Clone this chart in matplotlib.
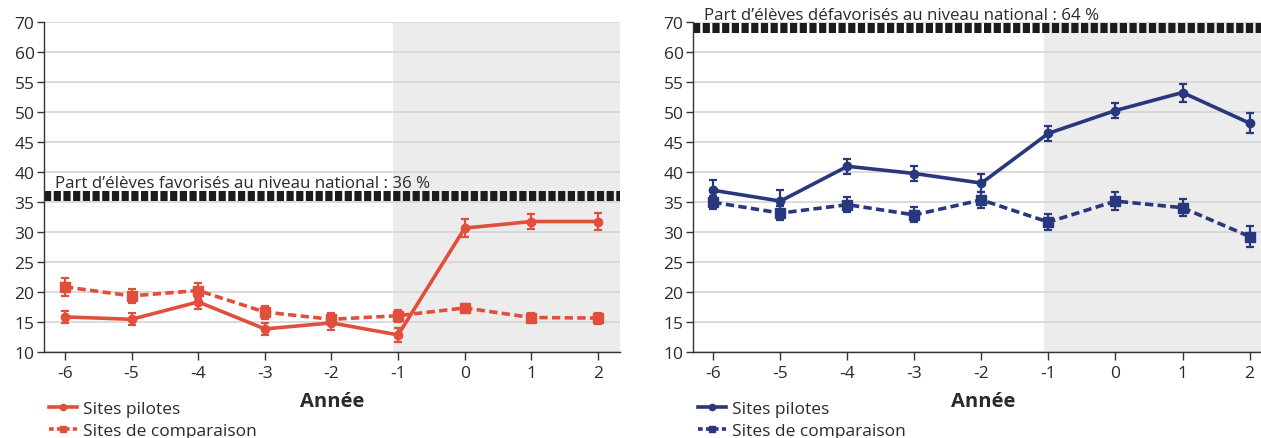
import matplotlib
matplotlib.use("Agg")
import matplotlib.pyplot as plt
from matplotlib.lines import Line2D
from matplotlib.transforms import blended_transform_factory

plt.rcParams['font.family'] = ['Open Sans', 'DejaVu Sans']

# ---------------- data ----------------
years = [-6, -5, -4, -3, -2, -1, 0, 1, 2]
year_labels = ["-6", "-5", "-4", "-3", "-2", "-1", "0", "1", "2"]

fav_pilotes = [15.9, 15.5, 18.4, 13.9, 14.9, 12.9, 30.7, 31.8, 31.8]
fav_pilotes_err = [1.05, 1.0, 1.1, 1.0, 1.1, 1.2, 1.45, 1.3, 1.4]
fav_comp = [20.9, 19.4, 20.3, 16.7, 15.5, 16.1, 17.4, 15.8, 15.7]
fav_comp_err = [1.5, 1.1, 1.3, 1.1, 1.0, 1.0, 0.7, 0.8, 0.9]

def_pilotes = [37.0, 35.2, 41.0, 39.8, 38.2, 46.5, 50.3, 53.3, 48.2]
def_pilotes_err = [1.7, 1.8, 1.2, 1.2, 1.5, 1.2, 1.3, 1.5, 1.65]
def_comp = [35.0, 33.2, 34.6, 32.9, 35.4, 31.7, 35.2, 34.1, 29.3]
def_comp_err = [1.1, 1.2, 1.25, 1.25, 1.3, 1.3, 1.5, 1.4, 1.75]

national_fav = 36
national_def = 64
text_fav = "Part d’élèves favorisés au niveau national : 36 %"
text_def = "Part d’élèves défavorisés au niveau national : 64 %"

ytick_vals = [10, 15, 20, 25, 30, 35, 40, 45, 50, 55, 60, 65]
ytick_labels = ["10", "15", "20", "25", "30", "35", "40", "45", "50", "55", "60", "70"]

series_labels = ["Sites pilotes", "Sites de comparaison"]
xlabel = "Année"

RED = "#E14F3C"
NAVY = "#29377C"
TXT = "#2a2a2a"

fig = plt.figure(figsize=(12.61, 4.39), dpi=100)
W, H = 1261, 439

def px_ax(x0, w):
    return [x0 / W, (H - 353.3) / H, w / W, (353.3 - 23.3) / H]

axL = fig.add_axes(px_ax(44.3, 575.7))
axR = fig.add_axes(px_ax(693.3, 579))

def draw(ax, pil, pil_err, comp, comp_err, color, ref, reftext, xlim):
    ax.set_xlim(*xlim)
    ax.set_ylim(10, 65)
    ax.axvspan(-1.07, 3, color="#ECECEC", zorder=0, lw=0)
    ax.set_yticks(ytick_vals)
    ax.set_yticklabels(ytick_labels)
    ax.set_xticks(years)
    ax.set_xticklabels(year_labels)
    ax.grid(axis="y", color="#D2D2D2", lw=1.1, zorder=1)
    ax.set_axisbelow(True)
    for s in ["top", "right"]:
        ax.spines[s].set_visible(False)
    for s in ["left", "bottom"]:
        ax.spines[s].set_color("#333333")
        ax.spines[s].set_linewidth(1.0)
    ax.tick_params(axis="y", length=5, width=1, color="#333333", labelsize=12.5,
                   labelcolor=TXT, pad=2)
    ax.tick_params(axis="x", length=6, width=1, color="#333333", labelsize=12.5,
                   labelcolor=TXT, pad=3)
    # national reference line
    ax.axhline(ref, color="#1c1c1c", lw=7.2, dashes=(0.72, 0.25),
               solid_capstyle="butt", dash_capstyle="butt", zorder=2)
    tr = blended_transform_factory(ax.transAxes, ax.transData)
    ax.text(0.018, ref + 2.2, reftext, transform=tr, fontsize=12.2,
            color=TXT, va="center", ha="left", clip_on=False, zorder=5)
    # comparison (dashed)
    ax.errorbar(years, comp, yerr=comp_err, color=color, lw=2.6, marker="s",
                ms=6.5, dashes=(2.3, 1.2), dash_capstyle="butt",
                elinewidth=1.6, capsize=3, capthick=1.6, zorder=3)
    # pilot (solid)
    ax.errorbar(years, pil, yerr=pil_err, color=color, lw=2.6, marker="o",
                ms=6, elinewidth=1.6, capsize=3, capthick=1.6, zorder=4)
    ax.text(0.5, -0.148, xlabel, transform=ax.transAxes, ha="center",
            va="center", fontsize=14.5, fontweight="bold", color=TXT)
    handles = [
        Line2D([], [], color=color, lw=2.6, marker="o", ms=4.5),
        Line2D([], [], color=color, lw=2.6, marker="s", ms=5,
               dashes=(1.3, 0.9)),
    ]
    ax.legend(handles, series_labels, loc="upper left",
              bbox_to_anchor=(ax.get_position().x0 + 5 / W, (H - 402) / H),
              bbox_transform=fig.transFigure, frameon=False, borderpad=0,
              borderaxespad=0, fontsize=12.5, handlelength=1.6,
              handletextpad=0.35, labelspacing=0.32, labelcolor=TXT)

draw(axL, fav_pilotes, fav_pilotes_err, fav_comp, fav_comp_err, RED,
     national_fav, text_fav, (-6.31, 2.33))
draw(axR, def_pilotes, def_pilotes_err, def_comp, def_comp_err, NAVY,
     national_def, text_def, (-6.30, 2.34))

fig.savefig("out.png", dpi=100)
